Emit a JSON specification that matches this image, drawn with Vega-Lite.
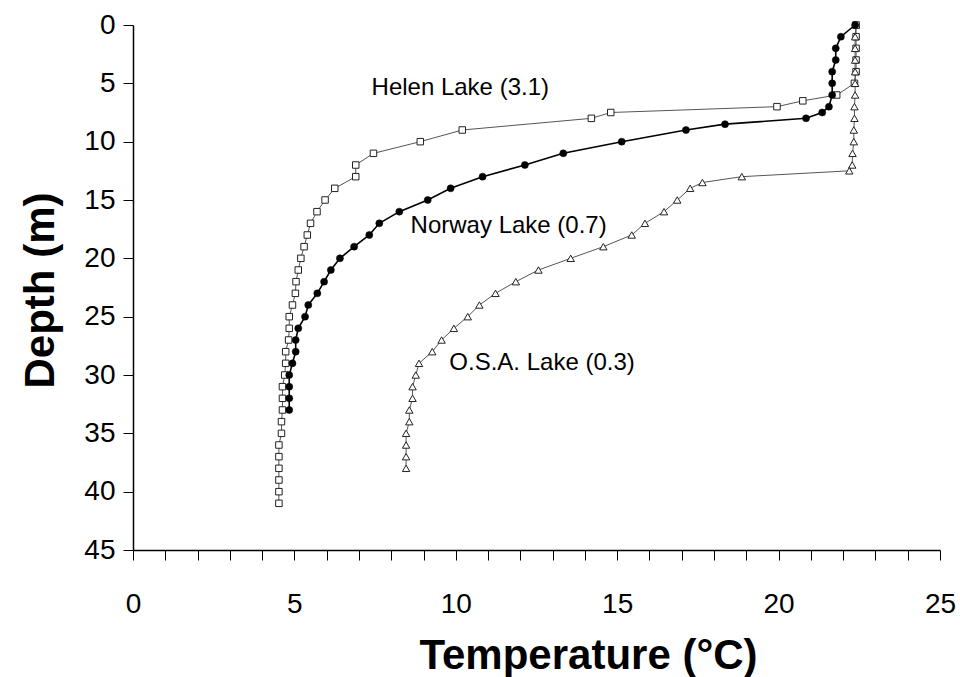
{
  "$schema": "https://vega.github.io/schema/vega-lite/v6.json",
  "width": 807,
  "height": 525,
  "autosize": {"type": "none"},
  "padding": {"left": 133, "top": 25, "right": 20, "bottom": 127},
  "background": "white",
  "config": {
    "view": {"stroke": null},
    "font": "Liberation Sans",
    "axis": {
      "grid": false,
      "domainColor": "#000",
      "domainWidth": 1.5,
      "tickColor": "#000",
      "tickWidth": 1,
      "tickSize": 10,
      "labelColor": "#000",
      "titleColor": "#000",
      "labelFont": "Liberation Sans",
      "titleFont": "Liberation Sans",
      "labelFontSize": 28,
      "titleFontSize": 42,
      "titleFontWeight": "bold"
    }
  },
  "datasets": {
    "profiles": [
      {"lake": "Helen", "depth": 0, "temp": 22.4},
      {"lake": "Helen", "depth": 1, "temp": 22.4},
      {"lake": "Helen", "depth": 2, "temp": 22.4},
      {"lake": "Helen", "depth": 3, "temp": 22.4},
      {"lake": "Helen", "depth": 4, "temp": 22.4},
      {"lake": "Helen", "depth": 5, "temp": 22.35},
      {"lake": "Helen", "depth": 6, "temp": 21.8},
      {"lake": "Helen", "depth": 6.5, "temp": 20.75},
      {"lake": "Helen", "depth": 7, "temp": 19.95},
      {"lake": "Helen", "depth": 7.5, "temp": 14.8},
      {"lake": "Helen", "depth": 8, "temp": 14.2},
      {"lake": "Helen", "depth": 9, "temp": 10.2},
      {"lake": "Helen", "depth": 10, "temp": 8.9},
      {"lake": "Helen", "depth": 11, "temp": 7.45},
      {"lake": "Helen", "depth": 12, "temp": 6.9},
      {"lake": "Helen", "depth": 13, "temp": 6.9},
      {"lake": "Helen", "depth": 14, "temp": 6.25},
      {"lake": "Helen", "depth": 15, "temp": 5.95},
      {"lake": "Helen", "depth": 16, "temp": 5.7},
      {"lake": "Helen", "depth": 17, "temp": 5.5},
      {"lake": "Helen", "depth": 18, "temp": 5.4},
      {"lake": "Helen", "depth": 19, "temp": 5.3},
      {"lake": "Helen", "depth": 20, "temp": 5.2},
      {"lake": "Helen", "depth": 21, "temp": 5.12},
      {"lake": "Helen", "depth": 22, "temp": 5.05},
      {"lake": "Helen", "depth": 23, "temp": 5.03},
      {"lake": "Helen", "depth": 24, "temp": 4.94},
      {"lake": "Helen", "depth": 25, "temp": 4.84},
      {"lake": "Helen", "depth": 26, "temp": 4.84},
      {"lake": "Helen", "depth": 27, "temp": 4.82},
      {"lake": "Helen", "depth": 28, "temp": 4.73},
      {"lake": "Helen", "depth": 29, "temp": 4.73},
      {"lake": "Helen", "depth": 30, "temp": 4.7},
      {"lake": "Helen", "depth": 31, "temp": 4.63},
      {"lake": "Helen", "depth": 32, "temp": 4.63},
      {"lake": "Helen", "depth": 33, "temp": 4.63},
      {"lake": "Helen", "depth": 34, "temp": 4.6},
      {"lake": "Helen", "depth": 35, "temp": 4.6},
      {"lake": "Helen", "depth": 36, "temp": 4.52},
      {"lake": "Helen", "depth": 37, "temp": 4.52},
      {"lake": "Helen", "depth": 38, "temp": 4.52},
      {"lake": "Helen", "depth": 39, "temp": 4.52},
      {"lake": "Helen", "depth": 40, "temp": 4.52},
      {"lake": "Helen", "depth": 41, "temp": 4.52},
      {"lake": "Norway", "depth": 0, "temp": 22.37},
      {"lake": "Norway", "depth": 1, "temp": 21.93},
      {"lake": "Norway", "depth": 2, "temp": 21.77},
      {"lake": "Norway", "depth": 3, "temp": 21.77},
      {"lake": "Norway", "depth": 4, "temp": 21.66},
      {"lake": "Norway", "depth": 5, "temp": 21.66},
      {"lake": "Norway", "depth": 6, "temp": 21.66},
      {"lake": "Norway", "depth": 7, "temp": 21.56},
      {"lake": "Norway", "depth": 7.5, "temp": 21.35},
      {"lake": "Norway", "depth": 8, "temp": 20.85},
      {"lake": "Norway", "depth": 8.5, "temp": 18.34},
      {"lake": "Norway", "depth": 9, "temp": 17.13},
      {"lake": "Norway", "depth": 10, "temp": 15.14},
      {"lake": "Norway", "depth": 11, "temp": 13.33},
      {"lake": "Norway", "depth": 12, "temp": 12.14},
      {"lake": "Norway", "depth": 13, "temp": 10.83},
      {"lake": "Norway", "depth": 14, "temp": 9.84},
      {"lake": "Norway", "depth": 15, "temp": 9.13},
      {"lake": "Norway", "depth": 16, "temp": 8.25},
      {"lake": "Norway", "depth": 17, "temp": 7.63},
      {"lake": "Norway", "depth": 18, "temp": 7.32},
      {"lake": "Norway", "depth": 19, "temp": 6.85},
      {"lake": "Norway", "depth": 20, "temp": 6.41},
      {"lake": "Norway", "depth": 21, "temp": 6.13},
      {"lake": "Norway", "depth": 22, "temp": 5.92},
      {"lake": "Norway", "depth": 23, "temp": 5.71},
      {"lake": "Norway", "depth": 24, "temp": 5.43},
      {"lake": "Norway", "depth": 25, "temp": 5.33},
      {"lake": "Norway", "depth": 26, "temp": 5.12},
      {"lake": "Norway", "depth": 27, "temp": 5.04},
      {"lake": "Norway", "depth": 28, "temp": 5.04},
      {"lake": "Norway", "depth": 29, "temp": 4.94},
      {"lake": "Norway", "depth": 30, "temp": 4.84},
      {"lake": "Norway", "depth": 31, "temp": 4.84},
      {"lake": "Norway", "depth": 32, "temp": 4.84},
      {"lake": "Norway", "depth": 33, "temp": 4.84},
      {"lake": "OSA", "depth": 0, "temp": 22.4},
      {"lake": "OSA", "depth": 1, "temp": 22.37},
      {"lake": "OSA", "depth": 2, "temp": 22.37},
      {"lake": "OSA", "depth": 3, "temp": 22.37},
      {"lake": "OSA", "depth": 4, "temp": 22.37},
      {"lake": "OSA", "depth": 5, "temp": 22.37},
      {"lake": "OSA", "depth": 6, "temp": 22.37},
      {"lake": "OSA", "depth": 7, "temp": 22.35},
      {"lake": "OSA", "depth": 8, "temp": 22.35},
      {"lake": "OSA", "depth": 9, "temp": 22.33},
      {"lake": "OSA", "depth": 10, "temp": 22.33},
      {"lake": "OSA", "depth": 11, "temp": 22.29},
      {"lake": "OSA", "depth": 12, "temp": 22.28},
      {"lake": "OSA", "depth": 12.5, "temp": 22.19},
      {"lake": "OSA", "depth": 13, "temp": 18.86},
      {"lake": "OSA", "depth": 13.5, "temp": 17.64},
      {"lake": "OSA", "depth": 14, "temp": 17.26},
      {"lake": "OSA", "depth": 15, "temp": 16.86},
      {"lake": "OSA", "depth": 16, "temp": 16.45},
      {"lake": "OSA", "depth": 17, "temp": 15.86},
      {"lake": "OSA", "depth": 18, "temp": 15.45},
      {"lake": "OSA", "depth": 19, "temp": 14.57},
      {"lake": "OSA", "depth": 20, "temp": 13.56},
      {"lake": "OSA", "depth": 21, "temp": 12.56},
      {"lake": "OSA", "depth": 22, "temp": 11.86},
      {"lake": "OSA", "depth": 23, "temp": 11.23},
      {"lake": "OSA", "depth": 24, "temp": 10.73},
      {"lake": "OSA", "depth": 25, "temp": 10.37},
      {"lake": "OSA", "depth": 26, "temp": 9.94},
      {"lake": "OSA", "depth": 27, "temp": 9.56},
      {"lake": "OSA", "depth": 28, "temp": 9.27},
      {"lake": "OSA", "depth": 29, "temp": 8.86},
      {"lake": "OSA", "depth": 30, "temp": 8.76},
      {"lake": "OSA", "depth": 31, "temp": 8.66},
      {"lake": "OSA", "depth": 32, "temp": 8.66},
      {"lake": "OSA", "depth": 33, "temp": 8.56},
      {"lake": "OSA", "depth": 34, "temp": 8.56},
      {"lake": "OSA", "depth": 35, "temp": 8.46},
      {"lake": "OSA", "depth": 36, "temp": 8.46},
      {"lake": "OSA", "depth": 37, "temp": 8.46},
      {"lake": "OSA", "depth": 38, "temp": 8.46}
    ],
    "labels": [
      {"label": "Helen Lake (3.1)", "temp": 7.39, "depth": 5.4},
      {"label": "Norway Lake (0.7)", "temp": 8.6, "depth": 17.2},
      {"label": "O.S.A. Lake (0.3)", "temp": 9.8, "depth": 29.0}
    ]
  },
  "encoding": {
    "x": {
      "field": "temp",
      "type": "quantitative",
      "scale": {"domain": [0, 25], "nice": false, "zero": false},
      "axis": {
        "title": "Temperature (°C)",
        "values": [0,1,2,3,4,5,6,7,8,9,10,11,12,13,14,15,16,17,18,19,20,21,22,23,24,25],
        "labelExpr": "datum.value % 5 === 0 ? datum.label : ''",
        "labelPadding": 30,
        "labelFlush": false,
        "labelOverlap": false,
        "titleX": 455,
        "titleY": 105,
        "titleAlign": "center",
        "titleBaseline": "middle"
      }
    },
    "y": {
      "field": "depth",
      "type": "quantitative",
      "scale": {"domain": [0, 45], "reverse": true, "nice": false, "zero": false},
      "axis": {
        "title": "Depth (m)",
        "values": [0,5,10,15,20,25,30,35,40,45],
        "labelPadding": 8,
        "labelFlush": false,
        "labelOverlap": false,
        "titleX": -93,
        "titleY": 265,
        "titleAlign": "center",
        "titleBaseline": "middle"
      }
    }
  },
  "layer": [
    {
      "data": {"name": "profiles"},
      "transform": [{"filter": "datum.lake === 'Helen'"}],
      "mark": {"type": "line", "stroke": "#555", "strokeWidth": 1},
      "encoding": {"order": {"field": "depth", "type": "quantitative"}}
    },
    {
      "data": {"name": "profiles"},
      "transform": [{"filter": "datum.lake === 'OSA'"}],
      "mark": {"type": "line", "stroke": "#555", "strokeWidth": 1},
      "encoding": {"order": {"field": "depth", "type": "quantitative"}}
    },
    {
      "data": {"name": "profiles"},
      "transform": [{"filter": "datum.lake === 'Norway'"}],
      "mark": {"type": "line", "stroke": "#000", "strokeWidth": 1.6},
      "encoding": {"order": {"field": "depth", "type": "quantitative"}}
    },
    {
      "data": {"name": "profiles"},
      "transform": [{"filter": "datum.lake === 'Helen'"}],
      "mark": {"type": "point", "shape": "square", "size": 42, "filled": true, "fill": "white", "stroke": "#222", "strokeWidth": 1, "opacity": 1}
    },
    {
      "data": {"name": "profiles"},
      "transform": [{"filter": "datum.lake === 'OSA'"}],
      "mark": {"type": "point", "shape": "triangle-up", "size": 55, "filled": true, "fill": "white", "stroke": "#222", "strokeWidth": 1, "opacity": 1}
    },
    {
      "data": {"name": "profiles"},
      "transform": [{"filter": "datum.lake === 'Norway'"}],
      "mark": {"type": "point", "shape": "circle", "size": 50, "filled": true, "fill": "#000", "stroke": "#000", "strokeWidth": 0.5, "opacity": 1}
    },
    {
      "data": {"name": "labels"},
      "mark": {"type": "text", "align": "left", "baseline": "middle", "fontSize": 24, "font": "Liberation Sans", "color": "#000"},
      "encoding": {"text": {"field": "label", "type": "nominal"}}
    }
  ]
}
